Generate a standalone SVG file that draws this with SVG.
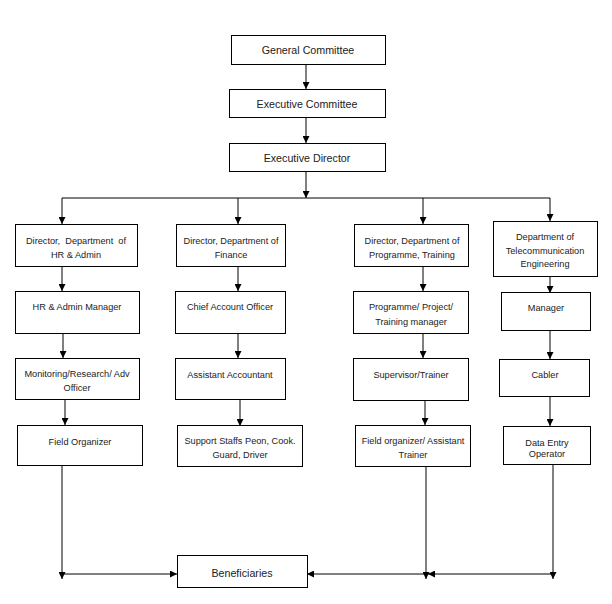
<svg xmlns="http://www.w3.org/2000/svg" width="612" height="604" viewBox="0 0 612 604">
<defs>
<style>
.box{fill:#fff;stroke:#000;stroke-width:1}
.t{font-family:"Liberation Sans",Arial,sans-serif;font-size:9.2px;fill:#222;text-anchor:middle}
.tl{font-family:"Liberation Sans",Arial,sans-serif;font-size:10.7px;fill:#222;text-anchor:middle}
.c{fill:none;stroke:#000;stroke-width:1}
</style>
<marker id="ah" viewBox="0 0 8 8" refX="8" refY="4" markerWidth="7" markerHeight="7" markerUnits="userSpaceOnUse" orient="auto">
<path d="M0,0 L8,4 L0,8 Z" fill="#000"/>
</marker>
</defs>
<rect width="612" height="604" fill="#fff"/>
<g id="connectors">
<line class="c" x1="306" y1="64" x2="306" y2="89" marker-end="url(#ah)"/>
<line class="c" x1="306" y1="117" x2="306" y2="143" marker-end="url(#ah)"/>
<line class="c" x1="306" y1="172" x2="306" y2="198" marker-end="url(#ah)"/>
<line class="c" x1="62" y1="198" x2="550" y2="198"/>
<line class="c" x1="62" y1="198" x2="62" y2="224" marker-end="url(#ah)"/>
<line class="c" x1="238" y1="198" x2="238" y2="224" marker-end="url(#ah)"/>
<line class="c" x1="423" y1="198" x2="423" y2="224" marker-end="url(#ah)"/>
<line class="c" x1="550" y1="198" x2="550" y2="221" marker-end="url(#ah)"/>
<line class="c" x1="62" y1="266" x2="62" y2="291" marker-end="url(#ah)"/>
<line class="c" x1="238" y1="266" x2="238" y2="291" marker-end="url(#ah)"/>
<line class="c" x1="423" y1="266" x2="423" y2="291" marker-end="url(#ah)"/>
<line class="c" x1="550" y1="276" x2="550" y2="293" marker-end="url(#ah)"/>
<line class="c" x1="63" y1="333" x2="63" y2="358" marker-end="url(#ah)"/>
<line class="c" x1="238" y1="333" x2="238" y2="358" marker-end="url(#ah)"/>
<line class="c" x1="423" y1="334" x2="423" y2="358" marker-end="url(#ah)"/>
<line class="c" x1="550" y1="330" x2="550" y2="359" marker-end="url(#ah)"/>
<line class="c" x1="65" y1="399" x2="65" y2="425" marker-end="url(#ah)"/>
<line class="c" x1="240" y1="400" x2="240" y2="426" marker-end="url(#ah)"/>
<line class="c" x1="425" y1="401" x2="425" y2="425" marker-end="url(#ah)"/>
<line class="c" x1="550" y1="396" x2="550" y2="426" marker-end="url(#ah)"/>
<line class="c" x1="62" y1="465" x2="62" y2="579" marker-end="url(#ah)"/>
<line class="c" x1="62" y1="574" x2="177" y2="574" marker-end="url(#ah)"/>
<line class="c" x1="426" y1="467" x2="426" y2="579" marker-end="url(#ah)"/>
<line class="c" x1="426" y1="574" x2="307" y2="574" marker-end="url(#ah)"/>
<line class="c" x1="553" y1="464" x2="553" y2="579" marker-end="url(#ah)"/>
<line class="c" x1="553" y1="574" x2="428" y2="574" marker-end="url(#ah)"/>
</g>
<g id="general-committee">
<rect class="box" x="231.5" y="35.5" width="154" height="29"/>
<text class="tl" x="308" y="54">General Committee</text>
</g>
<g id="executive-committee">
<rect class="box" x="229.5" y="89.5" width="156" height="28"/>
<text class="tl" x="307" y="108">Executive Committee</text>
</g>
<g id="executive-director">
<rect class="box" x="229.5" y="143.5" width="156" height="28"/>
<text class="tl" x="307" y="162">Executive Director</text>
</g>
<g id="dir-hr">
<rect class="box" x="15.5" y="224.5" width="122" height="42"/>
<text class="t" x="76" y="244" xml:space="preserve">Director,  Department  of</text>
<text class="t" x="76" y="258">HR &amp; Admin</text>
</g>
<g id="dir-finance">
<rect class="box" x="176.5" y="224.5" width="109" height="42"/>
<text class="t" x="231" y="244">Director, Department of</text>
<text class="t" x="231" y="258">Finance</text>
</g>
<g id="dir-programme">
<rect class="box" x="354.5" y="224.5" width="114" height="42"/>
<text class="t" x="412" y="244">Director, Department of</text>
<text class="t" x="412" y="258">Programme, Training</text>
</g>
<g id="dept-telecom">
<rect class="box" x="493.5" y="221.5" width="104" height="55"/>
<text class="t" x="545" y="240">Department of</text>
<text class="t" x="545" y="254">Telecommunication</text>
<text class="t" x="545" y="267">Engineering</text>
</g>
<g id="hr-manager">
<rect class="box" x="15.5" y="291.5" width="124" height="42"/>
<text class="t" x="77" y="310">HR &amp; Admin Manager</text>
</g>
<g id="chief-account">
<rect class="box" x="175.5" y="291.5" width="110" height="42"/>
<text class="t" x="230" y="310">Chief Account Officer</text>
</g>
<g id="programme-manager">
<rect class="box" x="353.5" y="291.5" width="115" height="42"/>
<text class="t" x="411" y="310">Programme/ Project/</text>
<text class="t" x="411" y="325">Training manager</text>
</g>
<g id="manager">
<rect class="box" x="501.5" y="292.5" width="89" height="38"/>
<text class="t" x="546" y="311">Manager</text>
</g>
<g id="monitoring">
<rect class="box" x="15.5" y="358.5" width="124" height="41"/>
<text class="t" x="77" y="377">Monitoring/Research/ Adv</text>
<text class="t" x="77" y="391">Officer</text>
</g>
<g id="assistant-accountant">
<rect class="box" x="175.5" y="358.5" width="110" height="41"/>
<text class="t" x="230" y="378">Assistant Accountant</text>
</g>
<g id="supervisor">
<rect class="box" x="353.5" y="358.5" width="115" height="42"/>
<text class="t" x="411" y="378">Supervisor/Trainer</text>
</g>
<g id="cabler">
<rect class="box" x="499.5" y="359.5" width="90" height="37"/>
<text class="t" x="545" y="378">Cabler</text>
</g>
<g id="field-organizer">
<rect class="box" x="17.5" y="425.5" width="125" height="40"/>
<text class="t" x="80" y="445">Field Organizer</text>
</g>
<g id="support-staffs">
<rect class="box" x="177.5" y="425.5" width="125" height="41"/>
<text class="t" x="240" y="444">Support Staffs Peon, Cook.</text>
<text class="t" x="240" y="458">Guard, Driver</text>
</g>
<g id="field-organizer-trainer">
<rect class="box" x="355.5" y="425.5" width="115" height="41"/>
<text class="t" x="413" y="444">Field organizer/ Assistant</text>
<text class="t" x="413" y="458">Trainer</text>
</g>
<g id="data-entry">
<rect class="box" x="503.5" y="426.5" width="87" height="38"/>
<text class="t" x="547" y="446">Data Entry</text>
<text class="t" x="547" y="457">Operator</text>
</g>
<g id="beneficiaries">
<rect class="box" x="177.5" y="555.5" width="130" height="32"/>
<text class="tl" x="242" y="577">Beneficiaries</text>
</g>
</svg>
